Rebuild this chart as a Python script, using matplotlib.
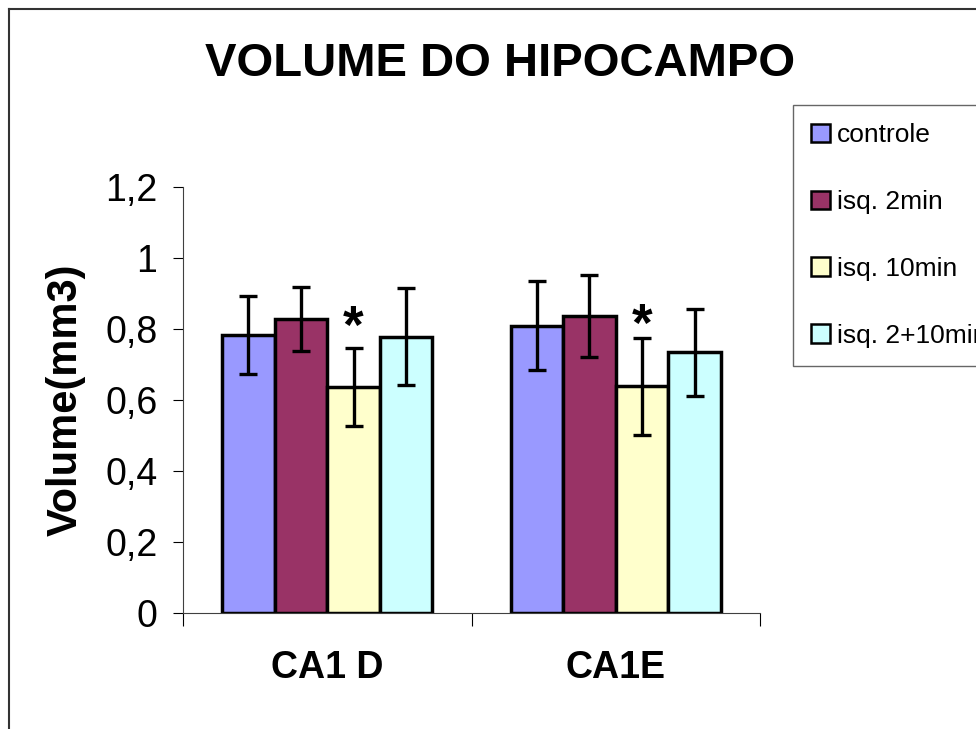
import numpy as np
import matplotlib
matplotlib.use("Agg")
import matplotlib.pyplot as plt
from matplotlib.lines import Line2D

plt.rcParams["font.family"] = ["Liberation Sans", "DejaVu Sans"]

# ---- data -----------------------------------------------------------------
categories = ["CA1 D", "CA1E"]
series = ["controle", "isq. 2min", "isq. 10min", "isq. 2+10min"]
means = [
    [0.783, 0.809],   # controle
    [0.827, 0.837],   # isq. 2min
    [0.637, 0.639],   # isq. 10min
    [0.778, 0.734],   # isq. 2+10min
]
errors = [
    [0.110, 0.125],
    [0.090, 0.115],
    [0.110, 0.137],
    [0.137, 0.123],
]
# asterisk over isq. 10min in both groups (height where it is drawn)
star_series = 2
star_y = [0.80, 0.805]
colours = ["#9999FF", "#993366", "#FFFFCC", "#CCFFFF"]

yticks = [0, 0.2, 0.4, 0.6, 0.8, 1.0, 1.2]
ytick_labels = ["0", "0,2", "0,4", "0,6", "0,8", "1", "1,2"]

# ---- figure ---------------------------------------------------------------
fig = plt.figure(figsize=(9.76, 7.29), dpi=100)
ax = fig.add_axes([183 / 976, 116 / 729, 577 / 976, 426 / 729])

width = 0.182
centres = np.arange(len(categories)) + 0.5
for i, name in enumerate(series):
    x = centres + (i - 1.5) * width
    ax.bar(x, means[i], width=width, color=colours[i], edgecolor="black",
           linewidth=2.5, label=name, zorder=2)
    ax.errorbar(x, means[i], yerr=errors[i], fmt="none", ecolor="black",
                elinewidth=2.4, capsize=6.5, capthick=2.4, zorder=3)
    if i == star_series:
        for xi, yi in zip(x, star_y):
            ax.text(xi, yi, "*", ha="center", va="center",
                    fontsize=38, fontweight="bold")

ax.set_xlim(0, len(categories))
ax.set_ylim(0, 1.2)
ax.set_yticks(yticks)
ax.set_yticklabels(ytick_labels, fontsize=27)
ax.set_xticks([0, 1, 2])
ax.set_xticklabels([])
ax.tick_params(axis="y", direction="out", length=7.5, width=0.8, pad=11)
ax.tick_params(axis="x", direction="out", length=9.5, width=0.8)
for xc, lab in zip(centres, categories):
    ax.text(xc, -0.155, lab, ha="center", va="center", fontsize=27,
            fontweight="bold")

for side in ["top", "right"]:
    ax.spines[side].set_visible(False)
for side in ["left", "bottom"]:
    ax.spines[side].set_linewidth(0.8)
    ax.spines[side].set_color("#404040")

ax.set_ylabel("Volume(mm3)", fontsize=30, fontweight="bold", labelpad=14)

fig.text(500 / 976, 1 - 64 / 729, "VOLUME DO HIPOCAMPO", ha="center",
         va="center", fontsize=34, fontweight="bold")

leg = fig.legend(loc="upper left", bbox_to_anchor=(793 / 976, 1 - 105 / 729),
                 borderaxespad=0, fontsize=19, frameon=True, fancybox=False,
                 edgecolor="#404040", handlelength=0.7, handleheight=0.7,
                 handletextpad=0.25, labelspacing=1.62, borderpad=0.7)
leg.get_frame().set_linewidth(1.0)
for h in leg.legend_handles:
    h.set_linewidth(1.8)

# outer chart border (left and top edges visible)
fig.add_artist(Line2D([9 / 976, 9 / 976], [0, 1 - 9 / 729], color="#333333",
                      lw=1.5, transform=fig.transFigure))
fig.add_artist(Line2D([9 / 976, 1], [1 - 9 / 729, 1 - 9 / 729],
                      color="#333333", lw=1.5, transform=fig.transFigure))

fig.savefig("out.png", dpi=100)
